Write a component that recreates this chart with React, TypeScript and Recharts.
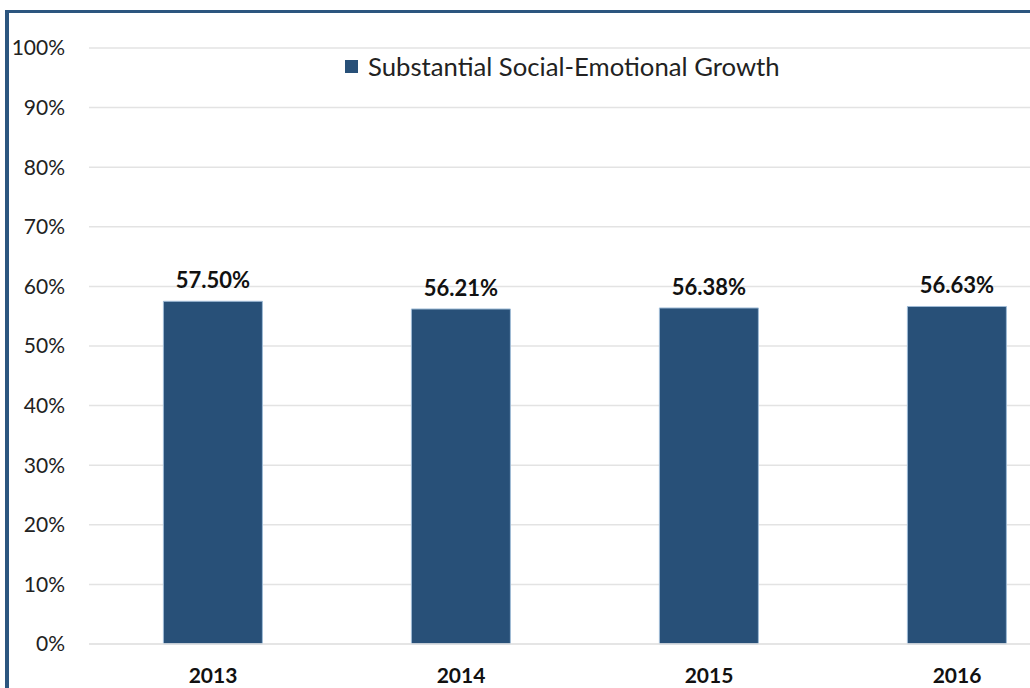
import React from "react";
import { BarChart, Bar, XAxis, YAxis, CartesianGrid, LabelList } from "recharts";

const categories = ["2013", "2014", "2015", "2016"];
const growthValues = [57.5, 56.21, 56.38, 56.63];
const yTicks = [0, 10, 20, 30, 40, 50, 60, 70, 80, 90, 100];
const seriesName = "Substantial Social-Emotional Growth";

const data = categories.map((year, i) => ({ year, growth: growthValues[i] }));

const FONT = "Lato, 'Open Sans', sans-serif";
const BAR_COLOR = "#285078";

export default function App() {
  return (
    <div style={{ position: "fixed", left: 0, top: 0, width: 1030, height: 688, overflow: "hidden", background: "#fff" }}>
      <div style={{ position: "absolute", left: 5, top: 10, width: 1100, height: 700, borderLeft: "4px solid #2c567f", borderTop: "3px solid #2c567f", boxSizing: "border-box" }} />
      <div style={{ position: "absolute", left: 0, top: 0 }}>
        <BarChart width={1090} height={688} data={data} margin={{ top: 48, right: 9, bottom: 0, left: 0 }} barCategoryGap="30%">
          <CartesianGrid vertical={false} stroke="#e3e3e3" strokeWidth={1.5} />
          <XAxis
            dataKey="year"
            height={44}
            axisLine={{ stroke: "#e3e3e3", strokeWidth: 1.5 }}
            tickLine={false}
            tickSize={0}
            tickMargin={24}
            tick={{ fontFamily: FONT, fontSize: 21, fontWeight: 700, fill: "#111" }}
          />
          <YAxis
            width={89}
            domain={[0, 100]}
            ticks={yTicks}
            interval={0}
            axisLine={false}
            tickLine={false}
            tickSize={0}
            tickMargin={24}
            tickFormatter={(v: number) => `${v}%`}
            tick={{ fontFamily: FONT, fontSize: 21, fill: "#222" }}
          />
          <Bar dataKey="growth" name={seriesName} fill={BAR_COLOR} stroke="#9fbbd6" strokeWidth={1} isAnimationActive={false}>
            <LabelList
              dataKey="growth"
              position="top"
              offset={13}
              formatter={(v: number) => `${v.toFixed(2)}%`}
              style={{ fontFamily: FONT, fontSize: 22, fontWeight: 700, fill: "#111" }}
            />
          </Bar>
        </BarChart>
      </div>
      <div style={{ position: "absolute", left: 345, top: 51, display: "flex", alignItems: "center", fontFamily: FONT, fontSize: 25.7, color: "#222", whiteSpace: "nowrap" }}>
        <span style={{ display: "inline-block", width: 13, height: 13, background: BAR_COLOR, marginRight: 10 }} />
        <span>{seriesName}</span>
      </div>
    </div>
  );
}
